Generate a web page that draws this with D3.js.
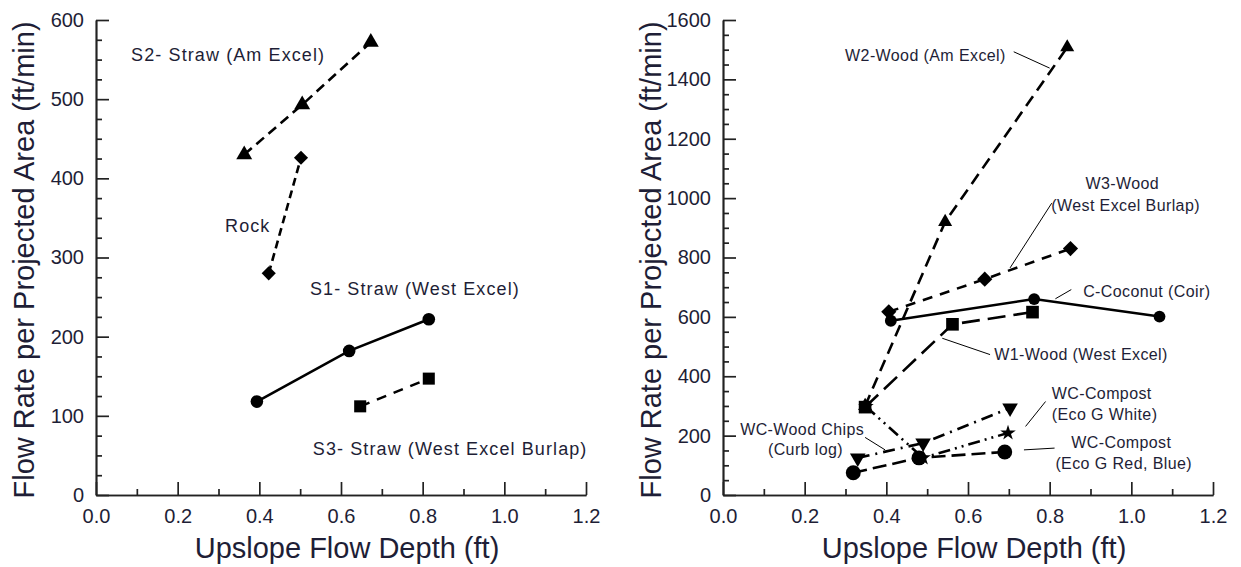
<!DOCTYPE html>
<html>
<head>
<meta charset="utf-8">
<script src="https://cdn.jsdelivr.net/npm/d3@7"></script>
<style>
  body { margin: 0; background: #fff; }
  svg { display: block; font-family: Arial, "Liberation Sans", sans-serif; }
  .tick text { fill: #1e1e36; font-size: 20px; }
  .lbl { fill: #1e1e36; }
</style>
</head>
<body>
<svg id="chart" width="1241" height="567"></svg>
<script>
// ---- data ----
const xTicks = [0, 0.2, 0.4, 0.6, 0.8, 1.0, 1.2];
const xMinorTicks = [0.1, 0.3, 0.5, 0.7, 0.9, 1.1];
const leftYTicks = [0, 100, 200, 300, 400, 500, 600];
const rightYTicks = [0, 200, 400, 600, 800, 1000, 1200, 1400, 1600];

// left panel: straw and rock
const s2Depth = [0.363, 0.505, 0.673];
const s2Rate = [430, 493, 572];
const rockDepth = [0.423, 0.502];
const rockRate = [280, 426];
const s1Depth = [0.394, 0.62, 0.815];
const s1Rate = [118, 182, 222];
const s3Depth = [0.647, 0.815];
const s3Rate = [112, 147];

// right panel: wood, coconut, compost
const w2Depth = [0.348, 0.544, 0.843];
const w2Rate = [300, 920, 1508];
const w3Depth = [0.406, 0.641, 0.851];
const w3Rate = [617, 727, 830];
const coirDepth = [0.411, 0.762, 1.069];
const coirRate = [587, 660, 601];
const w1Depth = [0.348, 0.562, 0.758];
const w1Rate = [296, 575, 616];
const chipsDepth = [0.33, 0.49, 0.703];
const chipsRate = [125, 175, 293];
const whiteDepth = [0.35, 0.49, 0.698];
const whiteRate = [298, 125, 209];
const redBlueDepth = [0.319, 0.48, 0.69];
const redBlueRate = [75, 125, 145];

const svg = d3.select("#chart");

function zip(xs, ys) {
  return xs.map((x, i) => [x, ys[i]]);
}

function drawPanel(p) {
  const x = d3.scaleLinear().domain([0, 1.2]).range([p.left, p.right]);
  const y = d3.scaleLinear().domain([0, p.yMax]).range([495, 20]);
  const g = svg.append("g");

  //minor ticks first, then the labelled ones
  g.append("g")
    .attr("transform", "translate(0,495)")
    .call(d3.axisBottom(x).tickValues(xMinorTicks).tickSize(-6).tickSizeOuter(0).tickFormat(""));
  g.append("g")
    .attr("transform", `translate(${p.left},0)`)
    .call(d3.axisLeft(y).tickValues(p.yMinor).tickSize(-6).tickSizeOuter(0).tickFormat(""));
  g.append("g")
    .attr("transform", "translate(0,495)")
    .call(d3.axisBottom(x).tickValues(xTicks).tickSize(-13).tickSizeOuter(0).tickPadding(14).tickFormat(d3.format(".1f")));
  g.append("g")
    .attr("transform", `translate(${p.left},0)`)
    .call(d3.axisLeft(y).tickValues(p.yTicks).tickSize(-13).tickSizeOuter(0).tickPadding(12).tickFormat(d3.format("d")));
  g.selectAll(".domain, .tick line").attr("stroke", "#222").attr("stroke-width", 1.7);

  //axis titles
  g.append("text")
    .attr("class", "lbl")
    .attr("transform", `translate(${p.left - 62},260) rotate(-90)`)
    .attr("text-anchor", "middle")
    .style("font-size", "29px")
    .text("Flow Rate per Projected Area (ft/min)");
  g.append("text")
    .attr("class", "lbl")
    .attr("x", (p.left + p.right) / 2 + 6)
    .attr("y", 558)
    .attr("text-anchor", "middle")
    .style("font-size", "29px")
    .text("Upslope Flow Depth (ft)");

  const line = d3.line().x(d => x(d[0])).y(d => y(d[1]));

  p.series.forEach(s => {
    const pts = zip(s.xs, s.ys);
    g.append("path")
      .datum(pts)
      .attr("d", line)
      .attr("fill", "none")
      .attr("stroke", "#000")
      .attr("stroke-width", 2.6)
      .attr("stroke-dasharray", s.dash);
    g.selectAll(null)
      .data(pts)
      .enter()
      .append("path")
      .attr("d", d3.symbol().type(s.type).size(s.size))
      .attr("transform", d => `translate(${x(d[0])},${y(d[1])}) rotate(${s.rot || 0})`)
      .attr("fill", "#000");
  });

  //leader lines
  p.leaders.forEach(l => {
    g.append("line")
      .attr("x1", x(l[0])).attr("y1", y(l[1]))
      .attr("x2", x(l[2])).attr("y2", y(l[3]))
      .attr("stroke", "#000")
      .attr("stroke-width", 1);
  });

  p.labels.forEach(l => {
    g.append("text")
      .attr("class", "lbl")
      .attr("x", x(l.x))
      .attr("y", y(l.y))
      .attr("dy", "0.35em")
      .attr("text-anchor", l.anchor || "start")
      .style("font-size", p.labelSize + "px")
      .style("letter-spacing", p.labelSpacing + "px")
      .text(l.text);
  });
}

drawPanel({
  left: 96,
  right: 586,
  yMax: 600,
  yTicks: leftYTicks,
  yMinor: d3.range(25, 600, 25).filter(v => v % 100 !== 0),
  labelSize: 18,
  labelSpacing: 1.1,
  series: [
    { xs: s2Depth, ys: s2Rate, type: d3.symbolTriangle, size: 110, dash: "10,6" },
    { xs: rockDepth, ys: rockRate, type: d3.symbolSquare, size: 100, rot: 45, dash: "8,5" },
    { xs: s1Depth, ys: s1Rate, type: d3.symbolCircle, size: 125, dash: null },
    { xs: s3Depth, ys: s3Rate, type: d3.symbolSquare, size: 145, dash: "10,8" }
  ],
  leaders: [],
  labels: [
    { text: "S2- Straw (Am Excel)", x: 0.086, y: 556 },
    { text: "Rock", x: 0.316, y: 340 },
    { text: "S1- Straw (West Excel)", x: 0.524, y: 260 },
    { text: "S3- Straw (West Excel Burlap)", x: 0.531, y: 59 }
  ]
});

drawPanel({
  left: 723,
  right: 1213,
  yMax: 1600,
  yTicks: rightYTicks,
  yMinor: d3.range(50, 1600, 50).filter(v => v % 200 !== 0),
  labelSize: 16,
  labelSpacing: 0.4,
  series: [
    { xs: w2Depth, ys: w2Rate, type: d3.symbolTriangle, size: 85, dash: "12,7" },
    { xs: w3Depth, ys: w3Rate, type: d3.symbolSquare, size: 115, rot: 45, dash: "10,8" },
    { xs: coirDepth, ys: coirRate, type: d3.symbolCircle, size: 110, dash: null },
    { xs: w1Depth, ys: w1Rate, type: d3.symbolSquare, size: 160, dash: "18,8" },
    { xs: chipsDepth, ys: chipsRate, type: d3.symbolTriangle, size: 105, rot: 180, dash: "12,6,2,6" },
    { xs: whiteDepth, ys: whiteRate, type: d3.symbolStar, size: 75, dash: "12,5,2,5,2,5" },
    { xs: redBlueDepth, ys: redBlueRate, type: d3.symbolCircle, size: 175, dash: "14,6" }
  ],
  leaders: [
    [0.712, 1493, 0.8, 1438],
    [0.805, 983, 0.703, 765],
    [0.853, 692, 0.814, 661],
    [0.654, 473, 0.537, 528],
    [0.79, 315, 0.741, 231],
    [0.812, 158, 0.737, 152],
    [0.348, 194, 0.397, 152]
  ],
  labels: [
    { text: "W2-Wood (Am Excel)", x: 0.299, y: 1480 },
    { text: "W3-Wood", x: 0.978, y: 1050, anchor: "middle" },
    { text: "(West Excel Burlap)", x: 0.986, y: 977, anchor: "middle" },
    { text: "C-Coconut (Coir)", x: 0.882, y: 686 },
    { text: "W1-Wood (West Excel)", x: 0.664, y: 473 },
    { text: "WC-Compost", x: 0.805, y: 342 },
    { text: "(Eco G White)", x: 0.805, y: 273 },
    { text: "WC-Wood Chips", x: 0.042, y: 221 },
    { text: "(Curb log)", x: 0.11, y: 152 },
    { text: "WC-Compost", x: 0.853, y: 176 },
    { text: "(Eco G Red, Blue)", x: 0.814, y: 106 }
  ]
});
</script>
</body>
</html>
